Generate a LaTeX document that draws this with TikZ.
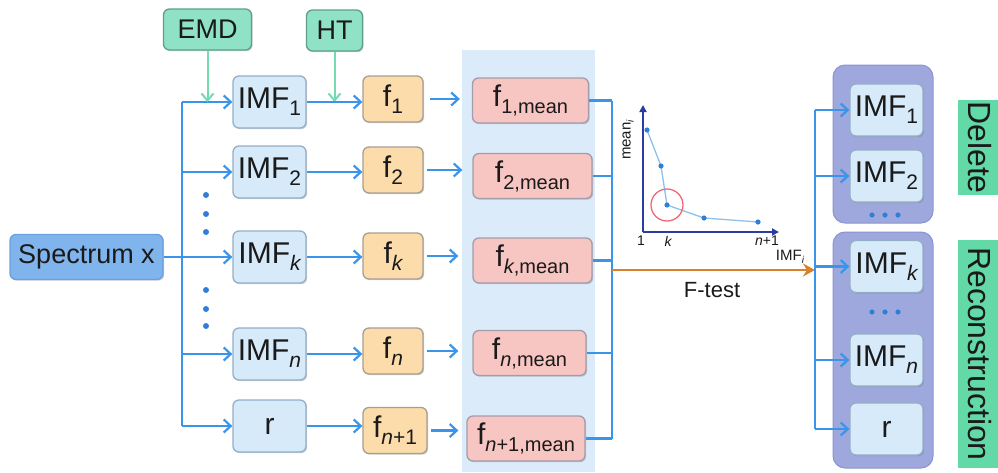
\documentclass[tikz,border=0pt]{standalone}
\usepackage{fontspec}
\setmainfont{Liberation Sans}
\usetikzlibrary{arrows.meta,shadows}
\definecolor{lineblue}{HTML}{3A94EA}
\definecolor{greenline}{HTML}{72DCB0}
\definecolor{toolfill}{HTML}{8FE2C6}
\definecolor{tooldraw}{HTML}{5E9E8E}
\definecolor{imffill}{HTML}{D6EAF9}
\definecolor{imfdraw}{HTML}{93AFC8}
\definecolor{ffill}{HTML}{FCDCAA}
\definecolor{fdraw}{HTML}{A89E92}
\definecolor{mfill}{HTML}{F8C6C2}
\definecolor{mdraw}{HTML}{A49CAA}
\definecolor{specfill}{HTML}{80B4EC}
\definecolor{specdraw}{HTML}{6C9FDC}
\definecolor{panelbg}{HTML}{DCEBFA}
\definecolor{grpfill}{HTML}{9FA8DD}
\definecolor{grpdraw}{HTML}{8A94D0}
\definecolor{labgreen}{HTML}{62D9A6}
\definecolor{orangeline}{HTML}{D9802A}
\definecolor{axisblue}{HTML}{2B3D9E}
\definecolor{ptblue}{HTML}{2F7FD8}
\definecolor{curveblue}{HTML}{8CC1EE}
\definecolor{circred}{HTML}{F06878}
\definecolor{txt}{HTML}{1A1A1A}
\newcommand{\sbt}[1]{\raisebox{-7pt}{\fontsize{21}{21}\selectfont #1}}
\newcommand{\sbm}[1]{\raisebox{-7pt}{\fontsize{20}{20}\selectfont #1}}
\newcommand{\sbs}[1]{\raisebox{-3pt}{\fontsize{10}{10}\selectfont #1}}
\begin{document}
\begin{tikzpicture}[x=1pt,y=-1pt,
  basebox/.style={rounded corners=6pt, line width=1.3pt, inner sep=0pt, text=txt,
    drop shadow={shadow xshift=1.2pt, shadow yshift=-1.2pt, opacity=0.3, fill=black!60}},
  toolbox/.style={basebox, draw=tooldraw, fill=toolfill, minimum width=88pt, minimum height=41pt,
    font=\fontsize{27}{27}\selectfont},
  imfbox/.style={basebox, draw=imfdraw, fill=imffill, minimum width=73pt, minimum height=52pt,
    font=\fontsize{30}{30}\selectfont},
  fqbox/.style={basebox, draw=fdraw, fill=ffill, minimum width=60pt, minimum height=46pt,
    font=\fontsize{30}{30}\selectfont},
  mbox/.style={basebox, draw=mdraw, fill=mfill, minimum width=116pt, minimum height=45pt,
    font=\fontsize{30}{30}\selectfont},
  bl/.style={draw=lineblue, line width=2.2pt},
  blarr/.style={bl, -{Straight Barb[length=7pt,width=13pt,line width=2.2pt]}},
  grarr/.style={draw=greenline, line width=2pt, -{Straight Barb[length=7pt,width=12pt,line width=2pt]}},
  dotb/.style={fill=ptblue, draw=none, circle, inner sep=0pt, minimum size=6pt},
  lab/.style={fill=labgreen, draw=none, inner sep=0pt, font=\fontsize{32}{32}\selectfont, text=txt},
]
\useasboundingbox (0,0) rectangle (998,472);
% background panel
\fill[panelbg] (462,50) rectangle (595,472);
% right group panels
\draw[grpdraw, fill=grpfill, line width=1pt, rounded corners=12pt] (833,65) rectangle (933,223);
\draw[grpdraw, fill=grpfill, line width=1pt, rounded corners=12pt] (833,232) rectangle (933,468);
% labels Delete / Reconstruction
\fill[labgreen] (958,100) rectangle (998,195);
\fill[labgreen] (958,240) rectangle (998,468);
\node[font=\fontsize{32}{32}\selectfont, text=txt, rotate=-90, inner sep=0pt] (del) at (980,147.5) {Delete};
\node[font=\fontsize{32}{32}\selectfont, text=txt, rotate=-90, inner sep=0pt] (rec) at (980,354) {Reconstruction};

% tools
\node[toolbox] (emd) at (207.5,29.5) {EMD};
\node[toolbox, minimum width=56pt] (ht) at (334.5,30.5) {HT};

% spectrum
\node[basebox, draw=specdraw, fill=specfill, minimum width=153pt, minimum height=45pt,
  font=\fontsize{27}{27}\selectfont] (spec) at (86.5,257) {Spectrum x};

% left IMF column
\node[imfbox] (i1) at (269.5,102) {IMF\sbt{1}};
\node[imfbox] (i2) at (269.5,172) {IMF\sbt{2}};
\node[imfbox] (ik) at (269.5,257) {IMF\sbt{\itshape k}};
\node[imfbox] (in) at (269.5,354) {IMF\sbt{\itshape n}};
\node[imfbox] (ir) at (269.5,426) {r};

% f column
\node[fqbox] (f1) at (393,99) {f\sbt{1}};
\node[fqbox] (f2) at (393,170) {f\sbt{2}};
\node[fqbox] (fk) at (393,256) {f\sbt{\itshape k}};
\node[fqbox] (fn) at (393,351) {f\sbt{\itshape n}};
\node[fqbox, minimum width=64pt] (fr) at (395,430.5) {f\sbt{\itshape n\upshape +1}};

% f mean column
\node[mbox] (m1) at (530.5,100.5) {f\sbm{1,mean}};
\node[mbox, minimum width=119pt] (m2) at (532.5,176) {f\sbm{2,mean}};
\node[mbox, minimum width=119pt] (mk) at (532.5,260.5) {f\sbm{\itshape k\upshape ,mean}};
\node[mbox, minimum width=113pt] (mn) at (529.5,353) {f\sbm{\itshape n\upshape ,mean}};
\node[mbox, minimum width=118pt] (mr) at (526,438.5) {f\sbm{\itshape n\upshape +1,mean}};

% right IMF column
\node[imfbox] (o1) at (886.5,110) {IMF\sbt{1}};
\node[imfbox] (o2) at (886.5,176) {IMF\sbt{2}};
\node[imfbox] (ok) at (886.5,266.5) {IMF\sbt{\itshape k}};
\node[imfbox] (on) at (886.5,360) {IMF\sbt{\itshape n}};
\node[imfbox] (or) at (886.5,429) {r};

% bus coordinates
\coordinate (bxl) at (182,0);
\coordinate (bxm) at (612,0);
\coordinate (bxr) at (815,0);

% left bus
\draw[bl] (i1.west -| bxl) -- (ir.west -| bxl);
\draw[blarr] (i1.west -| bxl) -- (i1.west);
\draw[blarr] (i2.west -| bxl) -- (i2.west);
\draw[blarr] (spec.east) -- (ik.west);
\draw[blarr] (in.west -| bxl) -- (in.west);
\draw[blarr] (ir.west -| bxl) -- (ir.west);

% tool arrows
\draw[grarr] (emd.south) -- (emd.south |- i1.west);
\draw[grarr] (ht.south) -- (ht.south |- i1.east);

% IMF -> f
\draw[blarr] (i1.east) -- (i1.east -| f1.west);
\draw[blarr] (i2.east) -- (i2.east -| f2.west);
\draw[blarr] (ik.east) -- (ik.east -| fk.west);
\draw[blarr] (in.east) -- (in.east -| fn.west);
\draw[blarr] (ir.east) -- (ir.east -| fr.west);

% f -> f mean
\draw[blarr, shorten >=12pt] ([xshift=6pt]f1.east) -- (f1.east -| m1.west);
\draw[blarr, shorten >=10pt] ([xshift=3pt]f2.east) -- (f2.east -| m2.west);
\draw[blarr, shorten >=14pt] ([xshift=3pt]fk.east) -- (fk.east -| mk.west);
\draw[blarr, shorten >=14pt] ([xshift=3pt]fn.east) -- (fn.east -| mn.west);
\draw[blarr, shorten >=8pt] ([xshift=3pt]fr.east) -- (fr.east -| mr.west);

% f mean -> bus
\draw[bl] (m1.east) -- (m1.east -| bxm);
\draw[bl] (m2.east) -- (m2.east -| bxm);
\draw[bl] (mk.east) -- (mk.east -| bxm);
\draw[bl] (mn.east) -- (mn.east -| bxm);
\draw[bl] (mr.east) -- (mr.east -| bxm);
\draw[bl] (m1.east -| bxm) -- (mr.east -| bxm);

% F-test arrow
\coordinate (ftA) at (612,270);
\draw[draw=orangeline, line width=2.6pt, -{Stealth[length=12pt,width=13pt]}] (ftA) -- (ftA -| bxr);
\node[font=\fontsize{22}{22}\selectfont, text=txt] (ftest) at (712,290) {F-test};

% right bus
\draw[bl] (o1.west -| bxr) -- (or.west -| bxr);
\draw[blarr] (o1.west -| bxr) -- (o1.west);
\draw[blarr] (o2.west -| bxr) -- (o2.west);
\draw[blarr] (ok.west -| bxr) -- (ok.west);
\draw[blarr] (on.west -| bxr) -- (on.west);
\draw[blarr] (or.west -| bxr) -- (or.west);

% dots left
\foreach \yy in {195,214,232,290,309,326} \fill[ptblue] (206,\yy) circle (3pt);
% dots right
\foreach \xx in {872,885,898} { \fill[ptblue] (\xx,215) circle (2.6pt); \fill[ptblue] (\xx,312) circle (2.6pt); }

% inset plot
\draw[axisblue, line width=2pt, -{Triangle[length=7pt,width=7pt]}] (643,232) -- (643,105);
\draw[axisblue, line width=2pt, -{Triangle[length=7pt,width=7pt]}] (643,232) -- (779,232);
\draw[curveblue, line width=1.3pt] (647,130) -- (661,166) -- (667,205) -- (704,218) -- (758,222);
\foreach \p in {(647,130),(661,166),(667,205),(704,218),(758,222)} \fill[ptblue] \p circle (2.6pt);
\draw[circred, line width=1.3pt] (667,205) circle (16pt);
\node[rotate=90, font=\fontsize{15}{15}\selectfont, text=txt, inner sep=0pt] (ylab) at (628,140) {mean\sbs{\itshape i}};
\node[font=\fontsize{14}{14}\selectfont, text=txt, inner sep=0pt] (t1) at (641,241) {1};
\node[font=\fontsize{14}{14}\selectfont, text=txt, inner sep=0pt] (tk) at (668,241) {\itshape k};
\node[font=\fontsize{14}{14}\selectfont, text=txt, inner sep=0pt] (tn) at (767,241) {\itshape n\upshape +1};
\node[font=\fontsize{15}{15}\selectfont, text=txt, inner sep=0pt] (xlab) at (790,257) {IMF\sbs{\itshape i}};
\end{tikzpicture}
\end{document}
